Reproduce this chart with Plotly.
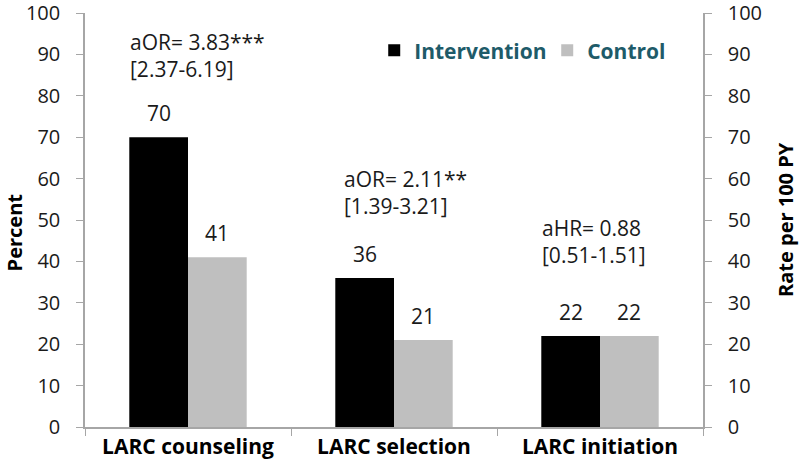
import plotly.graph_objects as go

# data
categories   = ["LARC counseling", "LARC selection", "LARC initiation"]
intervention = [70, 36, 22]
control      = [41, 21, 22]
stat_lines   = [["aOR= 3.83***", "[2.37-6.19]"],
                ["aOR= 2.11**",  "[1.39-3.21]"],
                ["aHR= 0.88",    "[0.51-1.51]"]]
stat_x       = [-0.29, 0.746, 1.71]     # where each text block starts
stat_y       = [89.8, 56.7, 44.8]       # middle of each text block (percent units)

FONT = "Open Sans"
AXIS = "#A6A6A6"
TEAL = "#1E5B69"
BARW = 0.285

fig = go.Figure()
fig.add_trace(go.Bar(name="<b>Intervention</b>", x=categories, y=intervention,
                     marker_color="#000000", marker_line_width=0))
fig.add_trace(go.Bar(name="<b>Control</b>", x=categories, y=control,
                     marker_color="#BFBFBF", marker_line_width=0))
# dummy trace so the right axis gets drawn
fig.add_trace(go.Scatter(x=[categories[0]], y=[None], yaxis="y2",
                         showlegend=False, hoverinfo="skip"))

ann = []
for i, cat in enumerate(categories):
   for val, off in ((intervention[i], -BARW/2), (control[i], BARW/2)):
      ann.append(dict(x=i + off, y=val, text=str(val), showarrow=False,
                      yshift=24, font=dict(size=21, color="#1a1a1a")))
   ann.append(dict(x=stat_x[i], y=stat_y[i], text="<br>".join(stat_lines[i]),
                   showarrow=False, xanchor="left", yanchor="middle", align="left",
                   font=dict(size=21, color="#1a1a1a")))

ann.append(dict(xref="paper", yref="paper", x=-71/618, y=0.47, xanchor="center",
                text="<b>Percent</b>", textangle=-90, showarrow=False,
                font=dict(size=20, color="#000")))
ann.append(dict(xref="paper", yref="paper", x=1 + 82/618, y=0.5, xanchor="center",
                text="<b>Rate per 100 PY</b>", textangle=-90, showarrow=False,
                font=dict(size=20, color="#000")))

yax = dict(range=[0, 100], dtick=10, ticks="outside", ticklen=7, tickcolor=AXIS,
           showline=True, linecolor=AXIS, linewidth=1.5, showgrid=False, zeroline=False,
           tickfont=dict(size=20, color="#1a1a1a"), ticklabelstandoff=12,
           ticklabeloverflow="allow", automargin=False)

fig.update_layout(
   width=800, height=469,
   margin=dict(l=85, r=97, t=13, b=42),
   paper_bgcolor="white", plot_bgcolor="white",
   font=dict(family=FONT),
   barmode="group", bargap=0.43, bargroupgap=0,
   xaxis=dict(type="category", range=[-0.5, 2.5], tickson="boundaries",
              ticks="outside", ticklen=7, tickcolor=AXIS,
              showline=True, linecolor=AXIS, linewidth=1.5, automargin=False,
              tickfont=dict(size=21, color="#000"),
              tickvals=categories, ticktext=["<b>%s</b>" % c for c in categories]),
   yaxis=yax,
   yaxis2=dict(yax, overlaying="y", side="right"),
   legend=dict(orientation="h", x=0.468, y=0.909, xanchor="left", yanchor="middle",
               entrywidth=128, font=dict(size=21, color=TEAL), bgcolor="rgba(0,0,0,0)"),
   annotations=ann,
   showlegend=True,
)

fig.write_html("out.html", config=dict(displayModeBar=False),
               post_script="document.body.style.margin='0';")
